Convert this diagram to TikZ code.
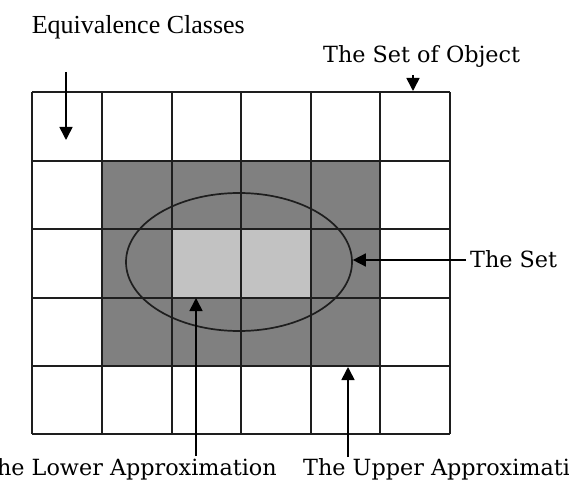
\documentclass[tikz,border=0pt]{standalone}
\usepackage{fontspec}
\setmainfont{Liberation Serif}
\newfontfamily\slabfont{DejaVu Serif}
\usetikzlibrary{arrows.meta,shapes.geometric}
\definecolor{darkcell}{RGB}{128,128,128}
\definecolor{lightcell}{RGB}{194,194,194}
\definecolor{gridline}{RGB}{30,30,30}
\tikzset{
  gridstyle/.style={draw=gridline,line width=2pt},
  ptr/.style={draw=black,line width=1.6pt,-{Triangle[width=13pt,length=13pt]}},
  slablabel/.style={font=\slabfont\fontsize{22.3}{26}\selectfont,inner sep=0pt,text=black},
  timeslabel/.style={font=\fontsize{26}{30}\selectfont,inner sep=0pt,text=black},
  setshape/.style={ellipse,draw=gridline,line width=1.7pt,minimum width=226pt,minimum height=138pt,inner sep=0pt}
}
\begin{document}
\begin{tikzpicture}[x=1pt,y=-1pt]
\clip (0,0) rectangle (569,486);
\fill[white] (0,0) rectangle (569,486);
% shaded areas
\fill[darkcell] (101.9,160.7) rectangle (380.7,365.5);
\fill[lightcell] (171.5,229.1) rectangle (310.7,297.5);
% grid
\foreach \i in {0,...,6} {
  \draw[gridstyle] ({32.3+69.6*\i},92.3) -- ({32.3+69.6*\i},434.3);
}
\foreach \j in {0,...,5} {
  \draw[gridstyle] (32.3,{92.3+68.4*\j}) -- (449.9,{92.3+68.4*\j});
}
% the set
\node[setshape] (set) at (239,262) {};
% labels
\node[timeslabel,anchor=base east] (eqc) at (245,34) {Equivalence Classes};
\node[slablabel,anchor=base west] (obj) at (323,63) {The Set of Object};
\node[slablabel,anchor=base west] (setlbl) at (470,267) {The Set};
\node[slablabel,anchor=base east] (lower) at (277,475) {The Lower Approximation};
\node[slablabel,anchor=base west] (upper) at (303,475) {The Upper Approximation};
% arrow anchor points
\coordinate (eqstart) at (66,72);
\coordinate (eqend) at (66,140);
\coordinate (objstart) at (413,75);
\coordinate (objend) at (413,91);
\coordinate (setstart) at (466,260);
\coordinate (lowstart) at (196,456);
\coordinate (lowend) at (196,298);
\coordinate (upstart) at (348,457);
\coordinate (upend) at (348,367);
% arrows
\draw[ptr] (eqstart) -- (eqend);
\draw[ptr] (objstart) -- (objend);
\draw[ptr] (setstart) -- (set.east |- setstart);
\draw[ptr] (lowstart) -- (lowend);
\draw[ptr] (upstart) -- (upend);
\end{tikzpicture}
\end{document}
